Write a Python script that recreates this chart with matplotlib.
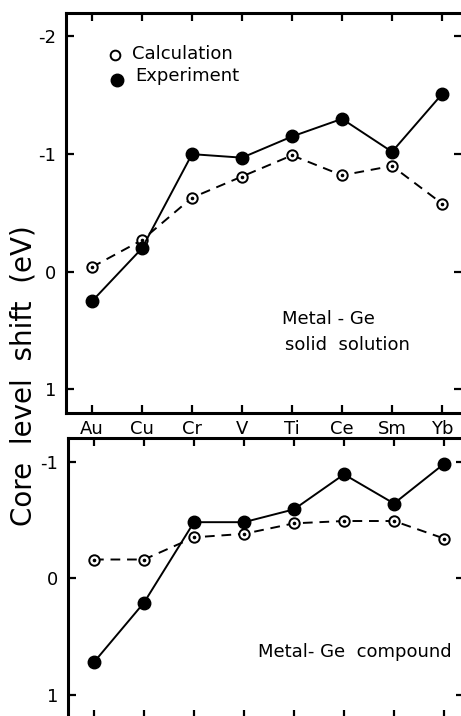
import matplotlib
matplotlib.use("Agg")
import matplotlib.pyplot as plt

plt.rcParams['font.family'] = ['DejaVu Sans']
plt.rcParams['axes.unicode_minus'] = False

metals = ["Au", "Cu", "Cr", "V", "Ti", "Ce", "Sm", "Yb"]

# solid solution (upper panel)
sol_calc = [-0.04, -0.27, -0.63, -0.81, -0.99, -0.82, -0.90, -0.58]
sol_exp = [0.25, -0.20, -1.00, -0.97, -1.15, -1.30, -1.02, -1.51]

# compound (lower panel)
cmp_calc = [-0.16, -0.16, -0.35, -0.38, -0.47, -0.49, -0.49, -0.34]
cmp_exp = [0.72, 0.21, -0.48, -0.48, -0.59, -0.89, -0.64, -0.98]

top_ticks = [-2, -1, 0, 1]
bot_ticks = [-1, 0, 1]

fig = plt.figure(figsize=(4.61, 7.16), dpi=100)
ax1 = fig.add_axes([0.1432, 0.4232, 0.859, 0.5587])
ax2 = fig.add_axes([0.1475, -0.003, 0.859, 0.391])

x = list(range(len(metals)))


def draw(ax, calc, exp):
    ax.plot(x, calc, color='black', lw=1.4, ls=(0, (5, 3.5)), marker='o',
            ms=7.5, mfc='white', mec='black', mew=1.4, zorder=3)
    ax.plot(x, calc, ls='none', marker='o', ms=1.6, color='black', zorder=4)
    ax.plot(x, exp, color='black', lw=1.4, marker='o', ms=9,
            mfc='black', mec='black', zorder=5)
    ax.set_xlim(-0.52, 7.4)
    ax.set_xticks(x)
    for s in ax.spines.values():
        s.set_linewidth(2.2)
    ax.tick_params(direction='in', length=6, width=1.6, top=True, right=True,
                   labelsize=13, pad=7)


draw(ax1, sol_calc, sol_exp)
ax1.set_ylim(1.2, -2.2)
ax1.set_yticks(top_ticks)
ax1.set_yticklabels([str(t) for t in top_ticks])
ax1.set_xticklabels(metals)
ax1.tick_params(axis='x', pad=5)

draw(ax2, cmp_calc, cmp_exp)
ax2.set_ylim(1.2, -1.2)
ax2.set_yticks(bot_ticks)
ax2.set_yticklabels([str(t) for t in bot_ticks])
ax2.set_xticklabels([])

# legend drawn by hand as in the original
ax1.plot([0.46], [-1.84], 'o', ms=7, mfc='white', mec='black', mew=1.4)
ax1.plot([0.5], [-1.63], 'o', ms=9, color='black')
ax1.text(0.8, -1.85, "Calculation", fontsize=13, va='center')
ax1.text(0.86, -1.66, "Experiment", fontsize=13, va='center')

ax1.text(3.8, 0.40, "Metal - Ge", fontsize=13, ha='left', va='center')
ax1.text(3.86, 0.62, "solid  solution", fontsize=13, ha='left', va='center')
ax2.text(7.15, 0.63, "Metal- Ge  compound", fontsize=13, ha='right', va='center')

fig.text(0.05, 0.476, "Core  level  shift  (eV)", rotation=90, fontsize=20,
         ha='center', va='center')

fig.savefig("out.png", dpi=100)
